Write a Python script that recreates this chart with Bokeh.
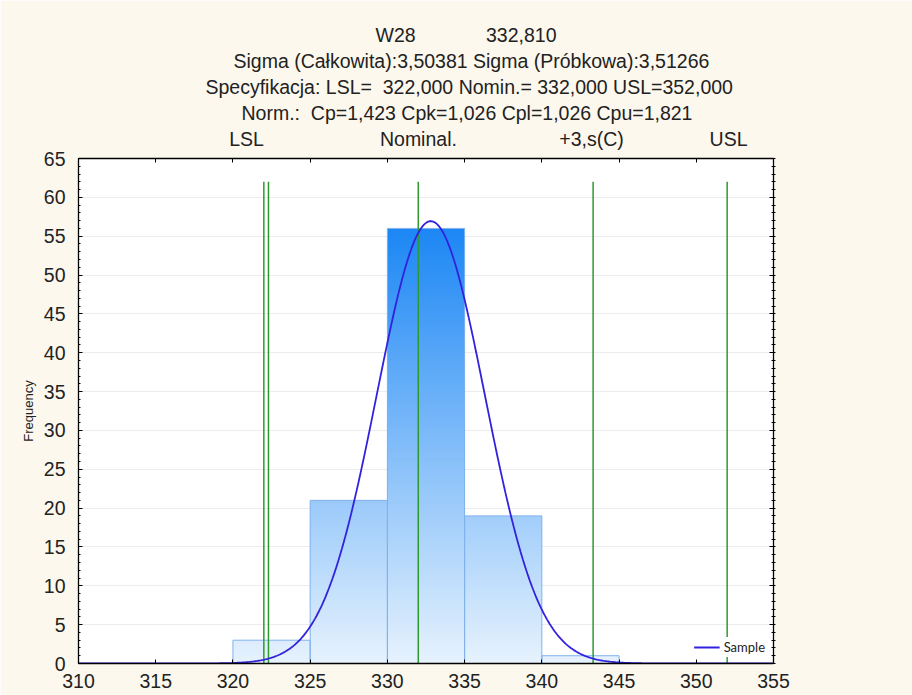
import numpy as np
from bokeh.plotting import figure
from bokeh.models import (LinearAxis, Title, Legend, LegendItem, FixedTicker, Range1d)
from bokeh.embed import file_html
from bokeh.resources import INLINE

# ---------------- data ----------------
bin_left = [320, 325, 330, 335, 340]
bin_right = [325, 330, 335, 340, 345]
counts = [3, 21, 56, 19, 1]

mean = 332.810
sigma = 3.50381
n_total = 100
bin_width = 5

lsl = 322.0
nominal = 332.0
usl = 352.0
minus3s = 322.30
plus3s = 343.32
spec_line_top = 62

spec_lines = [lsl, minus3s, nominal, plus3s, usl]
spec_label_text = ["LSL", "Nominal.", "+3,s(C)", "USL"]
spec_label_x = [320.88, 332.01, 343.22, 352.09]

x_ticks = [310, 315, 320, 325, 330, 335, 340, 345, 350, 355]
y_ticks = [0, 5, 10, 15, 20, 25, 30, 35, 40, 45, 50, 55, 60, 65]

NB = "\u00a0"
title_lines = [
    "W28" + NB * 13 + "332,810",
    "Sigma (Całkowita):3,50381 Sigma (Próbkowa):3,51266",
    "Specyfikacja: LSL=" + NB * 2 + "322,000 Nomin.= 332,000 USL=352,000",
    "Norm.:" + NB * 2 + "Cp=1,423 Cpk=1,026 Cpl=1,026 Cpu=1,821",
]
title_offsets = [297, 155, 127, 163]

FONT = "Liberation Sans"
CREAM = "#fdf8ee"
TXT = "#222222"

p = figure(width=912, height=695, frame_width=695, frame_height=505,
           output_backend="svg", toolbar_location=None,
           x_range=Range1d(310, 355), y_range=Range1d(0, 65),
           min_border_left=78, min_border_right=139, min_border_top=158,
           min_border_bottom=32, background_fill_color="white",
           border_fill_color=CREAM, outline_line_color="black")

# ---------------- gradient bars ----------------
c_bot = np.array([231, 243, 254])
c_top = np.array([28, 135, 245])
ymax = max(counts)
step = 0.5
ql, qr, qt, qc = [], [], [], []
for l, r, c in zip(bin_left, bin_right, counts):
    tops = np.arange(c, 0, -step)
    for t in tops:
        f = max(t - step / 2, 0) / ymax
        col = (c_bot + (c_top - c_bot) * f).astype(int)
        ql.append(l); qr.append(r); qt.append(t)
        qc.append("#%02x%02x%02x" % tuple(col))
order = np.argsort(-np.array(qt), kind="stable")
p.quad(left=[ql[i] for i in order], right=[qr[i] for i in order], bottom=0,
       top=[qt[i] for i in order], fill_color=[qc[i] for i in order], line_color=None)
p.quad(left=bin_left, right=bin_right, bottom=0, top=counts,
       fill_color=None, line_color="#80b2ec", line_width=1)

# ---------------- spec lines ----------------
p.segment(x0=spec_lines, x1=spec_lines, y0=[0] * len(spec_lines),
          y1=[spec_line_top] * len(spec_lines), line_color="#2e9a2e", line_width=1.5)

# ---------------- fitted normal curve ----------------
xs = np.linspace(310, 355, 600)
ys = n_total * bin_width / (sigma * np.sqrt(2 * np.pi)) * np.exp(-0.5 * ((xs - mean) / sigma) ** 2)
curve = p.line(xs, ys, line_color="#3322dd", line_width=1.8)

# ---------------- axes ----------------
p.xgrid.grid_line_color = None
p.ygrid.grid_line_color = "#ececec"
p.ygrid.ticker = FixedTicker(ticks=y_ticks)

xa = p.xaxis[0]
xa.ticker = FixedTicker(ticks=x_ticks)
ya = p.yaxis[0]
ya.ticker = FixedTicker(ticks=y_ticks, minor_ticks=list(range(0, 66)))

for ax in (xa, ya):
    ax.axis_line_color = "black"
    ax.axis_line_width = 1.3
    ax.major_tick_line_color = "black"
    ax.major_label_text_font = FONT
    ax.major_label_text_font_size = "19.5px"
    ax.major_label_text_color = TXT
xa.major_tick_in = 4
xa.major_tick_out = 0
xa.minor_tick_line_color = None
xa.major_label_standoff = 10
ya.major_tick_in = 4
ya.major_tick_out = 0
ya.minor_tick_in = 2
ya.minor_tick_out = 0
ya.major_label_standoff = 13
ya.axis_label = "Frequency"
ya.axis_label_text_font = FONT
ya.axis_label_text_font_size = "13px"
ya.axis_label_text_font_style = "normal"
ya.axis_label_text_color = TXT
ya.axis_label_standoff = 5

top_ax = LinearAxis(ticker=FixedTicker(ticks=x_ticks),
                    major_label_overrides={t: "" for t in x_ticks})
top_ax.major_label_standoff = 0
top_ax.major_tick_in = 4
top_ax.major_tick_out = 0
top_ax.minor_tick_line_color = None
top_ax.axis_line_width = 1.3
p.add_layout(top_ax, "above")

spec_ax = LinearAxis(ticker=FixedTicker(ticks=spec_label_x),
                     major_label_overrides={v: t for v, t in zip(spec_label_x, spec_label_text)})
spec_ax.axis_line_color = None
spec_ax.major_tick_line_color = None
spec_ax.minor_tick_line_color = None
spec_ax.major_tick_out = 0
spec_ax.major_tick_in = 0
spec_ax.major_label_standoff = 9
spec_ax.major_label_text_font = FONT
spec_ax.major_label_text_font_size = "19.5px"
spec_ax.major_label_text_color = TXT
p.add_layout(spec_ax, "above")

right_ax = LinearAxis(ticker=FixedTicker(ticks=y_ticks, minor_ticks=list(range(0, 66))),
                      major_label_overrides={t: "" for t in y_ticks})
right_ax.major_label_standoff = 0
right_ax.major_tick_in = 4
right_ax.major_tick_out = 0
right_ax.minor_tick_in = 2
right_ax.minor_tick_out = 2
right_ax.axis_line_width = 1.3
p.add_layout(right_ax, "right")

# ---------------- titles (added inner-most first) ----------------
for t, off in reversed(list(zip(title_lines, title_offsets))):
    p.add_layout(Title(text=t, align="left", offset=off, standoff=2,
                       text_font=FONT, text_font_size="19.5px",
                       text_font_style="normal", text_color=TXT), "above")

# ---------------- legend (inside the frame, bottom-right, so it is not clipped) ----------------
legend = Legend(items=[LegendItem(label="Sample", renderers=[curve])],
                location="bottom_right", orientation="horizontal",
                background_fill_color="white", background_fill_alpha=1,
                border_line_alpha=0, padding=2, margin=6, spacing=0,
                glyph_width=26, glyph_height=14, label_standoff=4,
                label_text_font="Lato", label_text_font_size="13px",
                label_text_color=TXT)
p.add_layout(legend, "center")

open("out.html", "w").write(file_html(p, INLINE))
